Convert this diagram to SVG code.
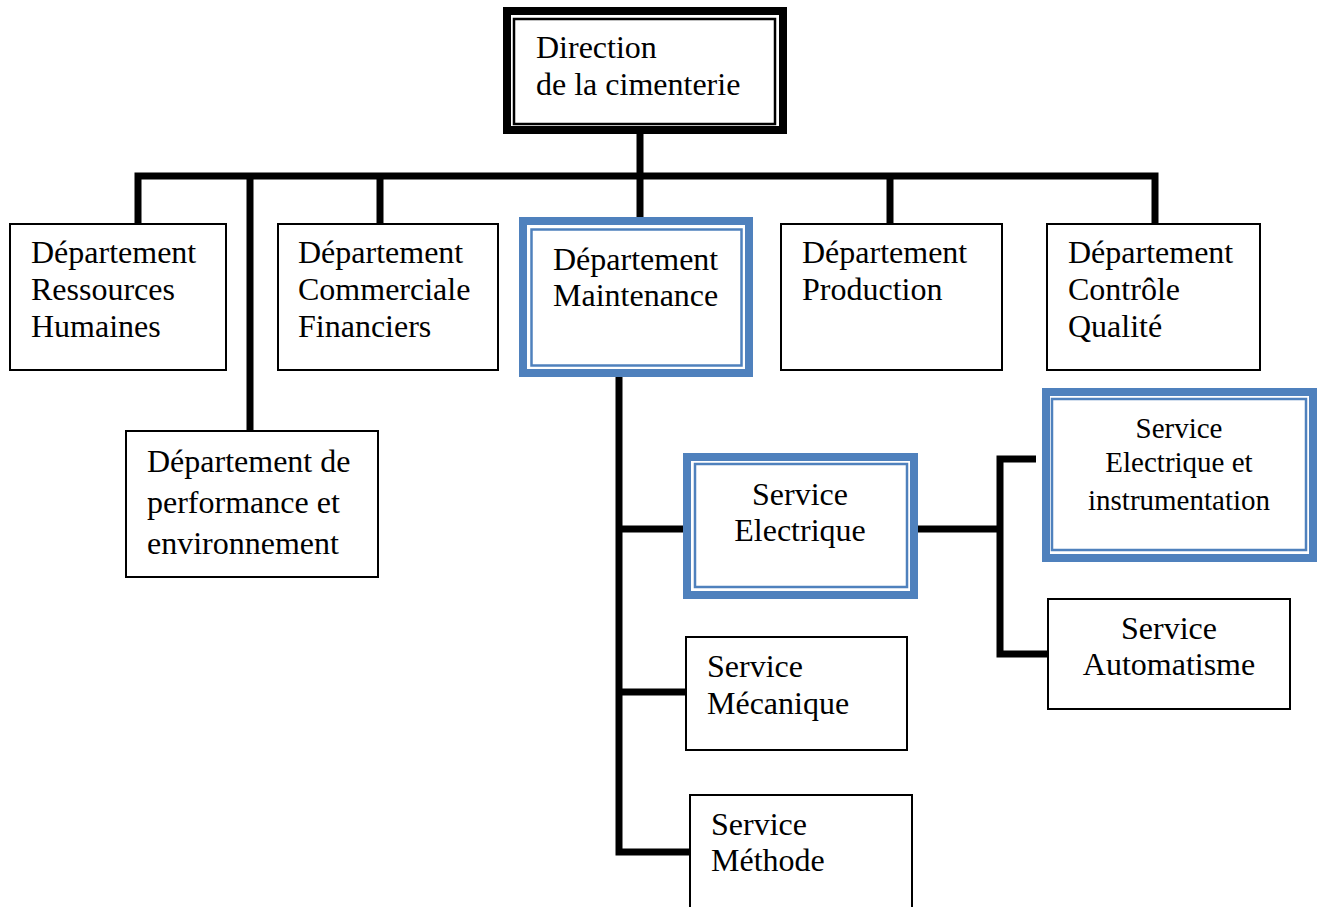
<svg xmlns="http://www.w3.org/2000/svg" width="1321" height="907" viewBox="0 0 1321 907">
<style>
.box{fill:#fff;stroke:#000;stroke-width:2}
.bo{fill:#fff;stroke:#4F81BD;stroke-width:8}
.bi{fill:none;stroke:#4F81BD;stroke-width:2.5}
.ko{fill:#fff;stroke:#000;stroke-width:8}
.ki{fill:none;stroke:#000;stroke-width:2.5}
.c{fill:none;stroke:#000;stroke-width:7}
text{font-family:"Liberation Serif","Times New Roman",serif;font-size:32px;fill:#000}
.m{text-anchor:middle}
.s{font-size:29px}
</style>
<rect width="1321" height="907" fill="#fff"/>
<g id="connectors">
<line class="c" x1="640" y1="134" x2="640" y2="222"/>
<polyline class="c" points="138,224 138,176 1155,176 1155,224"/>
<line class="c" x1="250" y1="176" x2="250" y2="431"/>
<line class="c" x1="380" y1="176" x2="380" y2="224"/>
<line class="c" x1="890" y1="176" x2="890" y2="224"/>
<polyline class="c" points="619,370 619,852 690,852"/>
<line class="c" x1="619" y1="529" x2="684" y2="529"/>
<line class="c" x1="619" y1="692" x2="686" y2="692"/>
<line class="c" x1="917" y1="529" x2="1000" y2="529"/>
<polyline class="c" points="1036,459 1000,459 1000,654 1048,654"/>
</g>
<g id="direction">
<rect class="ko" x="507" y="11" width="276" height="119"/>
<rect class="ki" x="514" y="19" width="261" height="105"/>
<text x="536" y="58">Direction</text>
<text x="536" y="95">de la cimenterie</text>
</g>
<g id="rh">
<rect class="box" x="10" y="224" width="216" height="146"/>
<text x="31" y="263">Département</text>
<text x="31" y="300">Ressources</text>
<text x="31" y="337">Humaines</text>
</g>
<g id="commercial">
<rect class="box" x="278" y="224" width="220" height="146"/>
<text x="298" y="263">Département</text>
<text x="298" y="300">Commerciale</text>
<text x="298" y="337">Financiers</text>
</g>
<g id="maintenance">
<rect class="bo" x="523" y="221" width="226" height="152"/>
<rect class="bi" x="531.5" y="229.5" width="210" height="136"/>
<text x="553" y="270">Département</text>
<text x="553" y="306">Maintenance</text>
</g>
<g id="production">
<rect class="box" x="781" y="224" width="221" height="146"/>
<text x="802" y="263">Département</text>
<text x="802" y="300">Production</text>
</g>
<g id="qualite">
<rect class="box" x="1047" y="224" width="213" height="146"/>
<text x="1068" y="263">Département</text>
<text x="1068" y="300">Contrôle</text>
<text x="1068" y="337">Qualité</text>
</g>
<g id="performance">
<rect class="box" x="126" y="431" width="252" height="146"/>
<text x="147" y="472">Département de</text>
<text x="147" y="513">performance et</text>
<text x="147" y="554">environnement</text>
</g>
<g id="electrique">
<rect class="bo" x="687" y="457" width="227" height="138"/>
<rect class="bi" x="695" y="464" width="212" height="123"/>
<text class="m" x="800" y="505">Service</text>
<text class="m" x="800" y="541">Electrique</text>
</g>
<g id="instrumentation">
<rect class="bo" x="1046" y="392" width="267" height="166"/>
<rect class="bi" x="1052" y="399" width="254" height="151"/>
<text class="m s" x="1179" y="438">Service</text>
<text class="m s" x="1179" y="472">Electrique et</text>
<text class="m s" x="1179" y="510">instrumentation</text>
</g>
<g id="automatisme">
<rect class="box" x="1048" y="599" width="242" height="110"/>
<text class="m" x="1169" y="639">Service</text>
<text class="m" x="1169" y="675">Automatisme</text>
</g>
<g id="mecanique">
<rect class="box" x="686" y="637" width="221" height="113"/>
<text x="707" y="677">Service</text>
<text x="707" y="714">Mécanique</text>
</g>
<g id="methode">
<rect class="box" x="690" y="795" width="222" height="130"/>
<text x="711" y="835">Service</text>
<text x="711" y="871">Méthode</text>
</g>
</svg>
